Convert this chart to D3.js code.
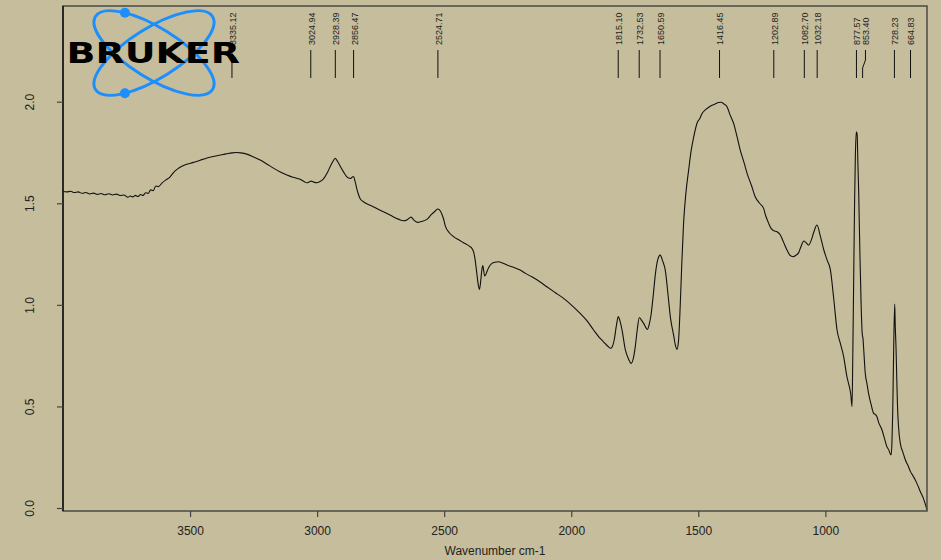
<!DOCTYPE html>
<html>
<head>
<meta charset="utf-8">
<script src="https://cdn.jsdelivr.net/npm/d3@7"></script>
<style>
  html, body { margin: 0; padding: 0; background: #c5bd9b; }
  svg { display: block; }
</style>
</head>
<body>
<svg id="chart" width="941" height="560"></svg>
<script>
// ---------------- data ----------------
const wavenumbers = [
  4000,3985,3970,3955,3940,3925,3910,3895,3880,3865,3850,3835,3820,3805,3790,3775,3760,3745,3735,3725,
  3715,3705,3695,3685,3675,3665,3655,3645,3635,3625,3610,3595,3580,3566,3550,3530,3510,3490,3474,3450,
  3430,3410,3395,3370,3350,3335,3316,3300,3277,3250,3224,3200,3172,3145,3119,3095,3067,3050,3041,3030,
  3024,3015,3001,2990,2975,2960,2945,2935,2929,2920,2909,2895,2883,2870,2862,2857,2850,2844,2837,2831,
  2815,2791,2750,2713,2680,2660,2647,2630,2620,2605,2590,2568,2550,2535,2525,2515,2503,2496,2480,2463,
  2440,2424,2400,2391,2383,2378,2372,2366,2361,2356,2352,2348,2344,2341,2336,2332,2322,2312,2300,2286,
  2270,2253,2230,2201,2180,2155,2125,2096,2065,2030,2000,1965,1940,1912,1890,1873,1855,1844,1838,1831,
  1822,1815,1808,1800,1787,1775,1764,1755,1748,1740,1732,1724,1715,1700,1693,1686,1677,1669,1660,1650,
  1640,1630,1617,1610,1597,1590,1584,1578,1571,1565,1558,1548,1538,1528,1518,1503,1495,1485,1470,1453,
  1435,1420,1411,1400,1387,1375,1361,1348,1335,1320,1308,1290,1276,1255,1243,1235,1223,1213,1203,1190,
  1177,1165,1151,1140,1127,1115,1105,1095,1085,1075,1066,1055,1045,1033,1020,1006,993,980,967,954,
  941,928,915,908,900,895,892,889,885,882,878,875,872,869,864,859,855,852,848,843,
  836,830,820,810,803,797,790,777,768,758,750,744,741,738,735,731,727,725,722,719,
  716,712,705,695,685,675,665,655,646,636,626,612,600
];
const absorbance = [
  1.558,1.556,1.559,1.553,1.556,1.549,1.553,1.546,1.550,1.544,1.548,1.542,1.547,1.541,1.545,1.538,1.541,1.530,1.536,1.531,
  1.539,1.533,1.543,1.538,1.552,1.548,1.566,1.562,1.585,1.582,1.600,1.615,1.628,1.650,1.668,1.683,1.693,1.700,1.706,1.716,
  1.724,1.730,1.734,1.740,1.745,1.748,1.750,1.748,1.742,1.728,1.713,1.695,1.673,1.654,1.639,1.628,1.618,1.606,1.601,1.606,
  1.609,1.605,1.601,1.606,1.620,1.650,1.690,1.712,1.722,1.707,1.682,1.652,1.630,1.622,1.628,1.632,1.605,1.572,1.542,1.524,
  1.505,1.490,1.465,1.442,1.422,1.414,1.418,1.432,1.418,1.406,1.410,1.421,1.445,1.462,1.472,1.462,1.425,1.390,1.355,1.336,
  1.318,1.306,1.288,1.278,1.255,1.220,1.160,1.100,1.076,1.120,1.170,1.193,1.165,1.142,1.150,1.163,1.190,1.204,1.210,1.212,
  1.206,1.196,1.186,1.171,1.155,1.138,1.115,1.089,1.062,1.032,1.000,0.958,0.925,0.876,0.840,0.818,0.795,0.786,0.795,0.827,
  0.900,0.942,0.920,0.876,0.778,0.735,0.712,0.740,0.794,0.880,0.938,0.925,0.909,0.879,0.905,0.950,1.050,1.150,1.220,1.245,
  1.215,1.171,1.024,0.941,0.850,0.800,0.781,0.820,1.000,1.200,1.401,1.560,1.663,1.760,1.827,1.901,1.915,1.942,1.962,1.978,
  1.988,1.996,1.997,1.990,1.975,1.935,1.893,1.830,1.762,1.700,1.647,1.585,1.532,1.495,1.475,1.440,1.401,1.375,1.365,1.360,
  1.344,1.310,1.270,1.245,1.237,1.245,1.257,1.290,1.314,1.305,1.294,1.320,1.360,1.393,1.340,1.270,1.220,1.171,1.030,0.876,
  0.810,0.745,0.646,0.610,0.560,0.499,0.750,1.073,1.500,1.729,1.852,1.840,1.700,1.565,1.250,0.991,0.860,0.835,0.760,0.663,
  0.610,0.564,0.510,0.466,0.460,0.449,0.420,0.384,0.345,0.302,0.285,0.265,0.262,0.320,0.466,0.794,1.004,0.900,0.794,0.640,
  0.499,0.400,0.318,0.275,0.236,0.210,0.179,0.158,0.138,0.110,0.080,0.040,-0.010
];
const peakLabels = ["3335.12","3024.94","2928.39","2856.47","2524.71","1815.10","1732.53","1650.59",
  "1416.45","1202.89","1082.70","1032.18","877.57","853.40","728.23","664.83"];
const xTicks = [3500, 3000, 2500, 2000, 1500, 1000];
const yTicks = [0.0, 0.5, 1.0, 1.5, 2.0];
const xTitle = "Wavenumber cm-1";
const logoText = "BRUKER";

// ---------------- layout ----------------
const W = 941, H = 560;
const plot = { left: 63, right: 927, top: 6, bottom: 511 };
const svg = d3.select("#chart");
svg.append("rect").attr("width", W).attr("height", H).attr("fill", "#c5bd9b");

const x = d3.scaleLinear().domain([4000, 600]).range([plot.left, plot.right]);
const y = d3.scaleLinear().domain([0, 2]).range([508, 101.7]);

const font = "'Liberation Sans', Arial, sans-serif";

// spectrum
const pts = wavenumbers.map((w, i) => [w, absorbance[i]]);
svg.append("path")
  .datum(pts)
  .attr("fill", "none")
  .attr("stroke", "#111")
  .attr("stroke-width", 1.1)
  .attr("d", d3.line().x(d => x(d[0])).y(d => y(d[1])).curve(d3.curveMonotoneX));

// frame
svg.append("rect")
  .attr("x", plot.left).attr("y", plot.top)
  .attr("width", plot.right - plot.left).attr("height", plot.bottom - plot.top)
  .attr("fill", "none").attr("stroke", "#4a4a44").attr("stroke-width", 1.5);
svg.append("line").attr("x1", plot.left).attr("x2", plot.left)
  .attr("y1", plot.top).attr("y2", plot.bottom).attr("stroke", "#000").attr("stroke-width", 1.2);

// x axis
const xAxis = svg.append("g").attr("transform", `translate(0,${plot.bottom})`)
  .call(d3.axisBottom(x).tickValues(xTicks).tickSize(6).tickPadding(9).tickFormat(d3.format("d")));
xAxis.select(".domain").remove();
xAxis.selectAll("line").attr("stroke", "#444").attr("stroke-width", 1.2);
xAxis.selectAll("text").attr("font-family", font).attr("font-size", 12).attr("fill", "#222");

// y axis
const yAxis = svg.append("g").attr("transform", `translate(${plot.left},0)`)
  .call(d3.axisLeft(y).tickValues(yTicks).tickSize(6).tickFormat(d3.format(".1f")));
yAxis.select(".domain").remove();
yAxis.selectAll("line").attr("stroke", "#444").attr("stroke-width", 1.2);
yAxis.selectAll("text")
  .attr("font-family", font).attr("font-size", 12).attr("fill", "#222")
  .attr("x", null).attr("dy", null)
  .attr("text-anchor", "middle")
  .attr("transform", "translate(-29.5,0) rotate(-90)");

// x title
svg.append("text").attr("x", (plot.left + plot.right) / 2).attr("y", 555)
  .attr("text-anchor", "middle").attr("font-family", font).attr("font-size", 12)
  .attr("fill", "#222").text(xTitle);

// peak labels
const minGap = 9;
let prev = -Infinity;
const peaks = peakLabels.map(s => {
  const px = x(+s);
  let tx = px;
  if (tx - prev < minGap) tx = prev + minGap;
  prev = tx;
  return { s, px, tx };
});
const pg = svg.append("g");
peaks.forEach(p => {
  pg.append("text")
    .attr("x", p.tx).attr("y", 45)
    .attr("transform", `rotate(-90,${p.tx},45)`)
    .attr("dy", "0.44em")
    .attr("font-family", font).attr("font-size", 9).attr("fill", "#222")
    .text(p.s);
  const d = p.tx === p.px
    ? `M${p.px},50L${p.px},78`
    : `M${p.tx},50L${p.tx},60L${p.px},68L${p.px},78`;
  pg.append("path").attr("d", d).attr("fill", "none").attr("stroke", "#111").attr("stroke-width", 1);
});

// logo
const logo = svg.append("g").attr("transform", "translate(154,53)");
const a = 69, b = 25, th = 32;
const blue = "#1c8ffc";
[th, -th].forEach(ang => {
  logo.append("ellipse").attr("rx", a).attr("ry", b)
    .attr("transform", `rotate(${ang})`)
    .attr("fill", "none").attr("stroke", blue).attr("stroke-width", 3);
});
function pointAtX(angDeg, targetX, sign) {
  const t0 = angDeg * Math.PI / 180;
  let best = null, bestScore = Infinity;
  for (let i = 0; i < 1440; i++) {
    const t = i / 1440 * 2 * Math.PI;
    const ex = a * Math.cos(t), ey = b * Math.sin(t);
    const px = ex * Math.cos(t0) - ey * Math.sin(t0);
    const py = ex * Math.sin(t0) + ey * Math.cos(t0);
    const score = Math.abs(px - targetX) * 10 + sign * py;
    if (score < bestScore) { bestScore = score; best = [px, py]; }
  }
  return best;
}
const topDot = pointAtX(th, -29, 1);
const botDot = pointAtX(-th, -29, -1);
[topDot, botDot].forEach(p => {
  logo.append("circle").attr("cx", p[0]).attr("cy", p[1]).attr("r", 5).attr("fill", blue);
});
svg.append("text").attr("x", 66.5).attr("y", 63.3)
  .attr("font-family", "'DejaVu Sans', sans-serif").attr("font-weight", "bold")
  .attr("font-size", 28).attr("fill", "#000")
  .attr("textLength", 173.5).attr("lengthAdjust", "spacingAndGlyphs")
  .text(logoText);
</script>
</body>
</html>
